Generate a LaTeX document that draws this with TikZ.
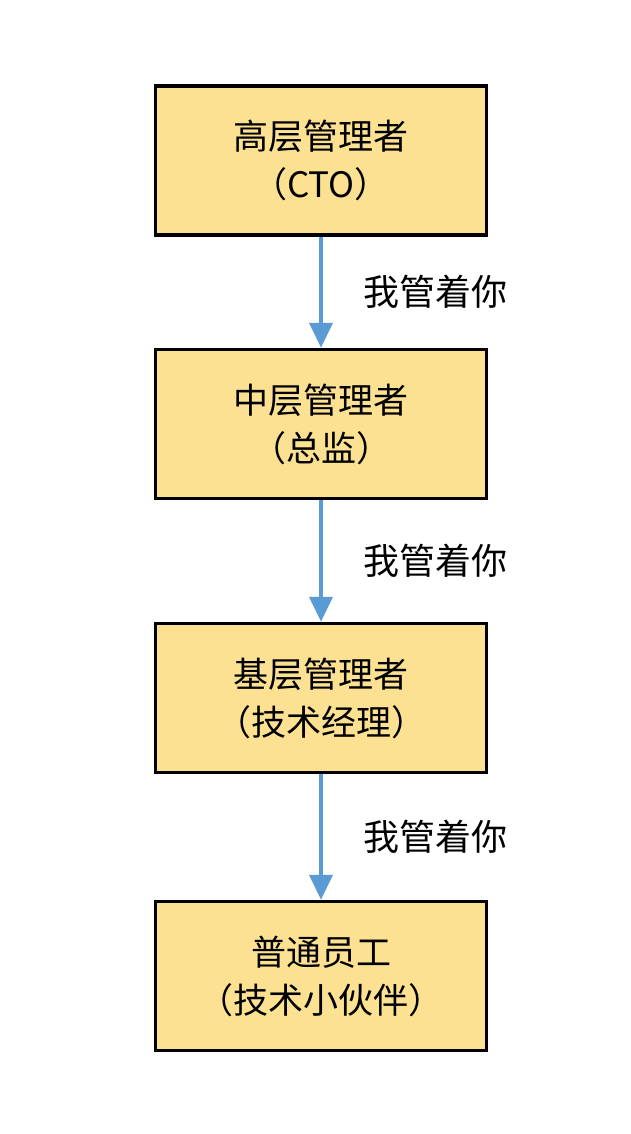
\documentclass[tikz,border=0pt]{standalone}
\usepackage{fontspec}
\newfontfamily\cjk{Noto Sans CJK SC}
\usetikzlibrary{arrows.meta}
\definecolor{boxfill}{RGB}{252,225,146}
\definecolor{arrowblue}{RGB}{91,155,213}
\tikzset{
  mgrbox/.style={draw=black, line width=3.5pt, fill=boxfill, minimum width=331pt, minimum height=149pt, inner sep=0pt,
    align=center, font=\cjk\fontsize{35}{48}\selectfont},
  flow/.style={draw=arrowblue, line width=4pt, -{Triangle[width=23pt,length=25pt]}},
  lbl/.style={font=\cjk\fontsize{36}{40}\selectfont, inner sep=0pt}
}
\begin{document}
\begin{tikzpicture}[x=1pt,y=-1pt]
\useasboundingbox (0,0) rectangle (631,1134);
\fill[white] (0,0) rectangle (631,1134);
\node[mgrbox] (b1) at (321,160.5) {高层管理者\\（CTO）};
\node[mgrbox] (b2) at (321,424) {中层管理者\\（总监）};
\node[mgrbox] (b3) at (321,698) {基层管理者\\（技术经理）};
\node[mgrbox] (b4) at (321,976) {普通员工\\（技术小伙伴）};
\draw[flow] (b1.south) -- (b2.north) node[lbl, midway, right=40pt] (l1) {我管着你};
\draw[flow] (b2.south) -- (b3.north) node[lbl, midway, right=40pt] (l2) {我管着你};
\draw[flow] (b3.south) -- (b4.north) node[lbl, midway, right=40pt] (l3) {我管着你};
\end{tikzpicture}
\end{document}
